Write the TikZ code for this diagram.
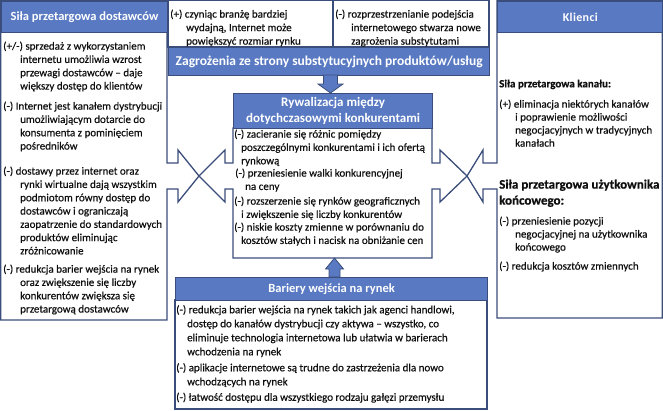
\documentclass[tikz,border=0pt]{standalone}
\usepackage{fontspec}
\setmainfont{Carlito}
\newfontfamily\bodyfont{Carlito}[FakeBold=0.4]
\newfontfamily\subfont{Carlito}[BoldFeatures={FakeBold=0.5}]
\definecolor{hblue}{RGB}{89,122,194}
\definecolor{dblue}{RGB}{59,77,122}
\definecolor{ink}{RGB}{15,15,15}
\newcommand\hangx[1]{\hspace*{#1pt}}
\tikzset{
  frame/.style={draw=dblue, line width=1.3pt, fill=white, line join=miter},
  hdrbox/.style={draw=dblue, line width=1.3pt, fill=hblue, inner sep=0pt, anchor=north west,
    text=white, font=\fontsize{12.5}{15}\selectfont\bfseries, align=center},
  blockarrow/.style={draw=dblue, line width=0.8pt, fill=hblue, line join=miter},
  body/.style={anchor=north west, inner sep=0pt, align=left, text=ink, font=\bodyfont\fontsize{11}{13.3}\selectfont},
  bodyb/.style={body, font=\bodyfont\fontsize{11}{14}\selectfont},
  bodyt/.style={body, font=\bodyfont\fontsize{11}{13.5}\selectfont},
  bodyr/.style={body, font=\bodyfont\fontsize{11}{13}\selectfont},
  subhead/.style={anchor=north west, inner sep=0pt, align=left, text=ink, font=\subfont\fontsize{11}{13.3}\selectfont\bfseries},
}
\begin{document}
\begin{tikzpicture}[x=1pt,y=-1pt]
\useasboundingbox (0,0) rectangle (663,410);

% ---------- left panel outline ----------
\draw[frame] (0.7,0.7) -- (167,0.7) -- (167,163) -- (178,163) -- (178,150) -- (199,176)
  -- (178,202) -- (178,189) -- (167,189) -- (167,320) -- (0.7,320) -- cycle;
% ---------- right panel outline ----------
\draw[frame] (497,0.7) -- (662.3,0.7) -- (662.3,318) -- (497,318) -- (497,189) -- (483,189)
  -- (483,202) -- (467,176) -- (483,150) -- (483,163) -- (497,163) -- cycle;
% ---------- centre panel outline ----------
\draw[frame] (233,128) -- (233,163) -- (225,163) -- (225,150) -- (199,176) -- (225,202)
  -- (225,189) -- (233,189) -- (233,258) -- (432,258) -- (432,189) -- (440,189) -- (440,202)
  -- (467,176) -- (440,150) -- (440,163) -- (432,163) -- (432,128) -- cycle;
% ---------- top boxes ----------
\draw[frame] (168,0.7) rectangle (333,47);
\draw[frame] (333,0.7) rectangle (489,47);
% ---------- bottom box ----------
\draw[frame] (175,300) rectangle (487,409);

% ---------- headers ----------
\node[hdrbox, minimum width=166.3pt, minimum height=31.3pt] (hsup) at (0.7,0.7) {Siła przetargowa dostawców};
\node[hdrbox, minimum width=165.3pt, minimum height=31.3pt,
  font=\fontsize{12}{14}\selectfont\bfseries\addfontfeature{LetterSpace=3}] (hcli) at (497,0.7) {Klienci};
\node[hdrbox, minimum width=321pt, minimum height=28pt, font=\fontsize{13.5}{16}\selectfont\bfseries] (hsub) at (168,47) {Zagrożenia ze strony substytucyjnych produktów/usług};
\node[hdrbox, minimum width=199pt, minimum height=35pt, font=\fontsize{13}{15.8}\selectfont\bfseries] (hriv) at (233,93) {Rywalizacja między\\dotychczasowymi konkurentami};
\node[hdrbox, minimum width=312pt, minimum height=23pt] (hbar) at (175,277) {Bariery wejścia na rynek};

% ---------- block arrows ----------
\draw[blockarrow] (323.5,75) -- (337.5,75) -- (337.5,84) -- (343,84) -- (330.5,93)
  -- (318,84) -- (323.5,84) -- cycle;
\draw[blockarrow] (329,277) -- (340,277) -- (340,269) -- (343.5,269) -- (334.5,258)
  -- (325.5,269) -- (329,269) -- cycle;

% ---------- left texts ----------
\node[body] (l1) at (3,41.4) {(+/-) sprzedaż z wykorzystaniem\\\hangx{17}internetu umożliwia wzrost\\\hangx{17}przewagi dostawców – daje\\\hangx{17}większy dostęp do klientów};
\node[body] (l2) at (3,101.4) {(-) Internet jest kanałem dystrybucji\\\hangx{17}umożliwiającym dotarcie do\\\hangx{17}konsumenta z pominięciem\\\hangx{17}pośredników};
\node[body] (l3) at (3,166.4) {(-) dostawy przez internet oraz\\\hangx{17}rynki wirtualne dają wszystkim\\\hangx{17}podmiotom równy dostęp do\\\hangx{17}dostawców i ograniczają\\\hangx{17}zaopatrzenie do standardowych\\\hangx{17}produktów eliminując\\\hangx{17}zróżnicowanie};
\node[body] (l4) at (3,264.4) {(-) redukcja barier wejścia na rynek\\\hangx{17}oraz zwiększenie się liczby\\\hangx{17}konkurentów zwiększa się\\\hangx{17}przetargową dostawców};

% ---------- top texts ----------
\node[bodyt] (t1) at (170,9.4) {(+) czyniąc branżę bardziej\\\hangx{16}wydajną, Internet może\\\hangx{16}powiększyć rozmiar rynku};
\node[bodyt] (t2) at (335,9.4) {(-) rozprzestrzenianie podejścia\\\hangx{16}internetowego stwarza nowe\\\hangx{16}zagrożenia substytutami};

% ---------- centre texts ----------
\node[body] (c1) at (234,129.4) {(-) zacieranie się różnic pomiędzy\\\hangx{7}poszczególnymi konkurentami i ich ofertą\\\hangx{7}rynkową};
\node[body] (c2) at (235,168.4) {(-) przeniesienie walki konkurencyjnej\\\hangx{10}na ceny};
\node[body] (c3) at (234,196.4) {(-) rozszerzenie się rynków geograficznych\\\hangx{7}i zwiększenie się liczby konkurentów};
\node[body] (c4) at (234,222.4) {(-) niskie koszty zmienne w porównaniu do\\\hangx{7}kosztów stałych i nacisk na obniżanie cen};

% ---------- bottom texts ----------
\node[bodyb] (b1) at (176,305) {(-) redukcja barier wejścia na rynek takich jak agenci handlowi,\\\hangx{11}dostęp do kanałów dystrybucji czy aktywa – wszystko, co\\\hangx{11}eliminuje technologia internetowa lub ułatwia w barierach\\\hangx{11}wchodzenia na rynek};
\node[bodyb] (b2) at (176,363) {(-) aplikacje internetowe są trudne do zastrzeżenia dla nowo\\\hangx{11}wchodzących na rynek};
\node[bodyb] (b3) at (176,392.5) {(-) łatwość dostępu dla wszystkiego rodzaju gałęzi przemysłu};

% ---------- right texts ----------
\node[subhead] (r0) at (499,79.4) {Siła przetargowa kanału:};
\node[bodyr] (r1) at (499,99.4) {(+) eliminacja niektórych kanałów\\\hangx{16}i poprawienie możliwości\\\hangx{16}negocjacyjnych w tradycyjnych\\\hangx{16}kanałach};
\node[subhead, font=\subfont\fontsize{13}{16}\selectfont\bfseries] (r2) at (499,179.3) {Siła przetargowa użytkownika\\końcowego:};
\node[bodyr] (r3) at (499,216.4) {(-) przeniesienie pozycji\\\hangx{16}negocjacyjnej na użytkownika\\\hangx{16}końcowego};
\node[bodyr] (r4) at (499,261.4) {(-) redukcja kosztów zmiennych};
\end{tikzpicture}
\end{document}
